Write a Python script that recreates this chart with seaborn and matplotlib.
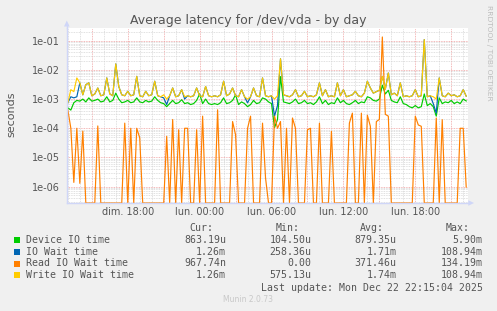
import numpy as np
import pandas as pd
import matplotlib
matplotlib.use("Agg")
import matplotlib.pyplot as plt
import seaborn as sns
from matplotlib.ticker import FixedLocator, FuncFormatter, LogLocator, MultipleLocator, NullFormatter
from matplotlib.patches import Rectangle, Polygon
from matplotlib.lines import Line2D

# ---------------- data ----------------
TITLE = "Average latency for /dev/vda - by day"
Y_LABEL = "seconds"
START_HOUR = 13.0          # hours since Sunday 00:00
STEP_HOURS = 0.25
X_GRID_MAJOR = [15, 18, 21, 24, 27, 30, 33, 36, 39, 42, 45]
X_TICK_HOURS = [18, 24, 30, 36, 42]
X_TICK_LABELS = ["dim. 18:00", "lun. 00:00", "lun. 06:00", "lun. 12:00", "lun. 18:00"]

device_io_ms = [
    0.5, 0.42, 0.75, 0.9, 0.85, 1.0, 0.8, 1.1, 0.85, 0.9,
    1.0, 0.8, 0.85, 1.2, 0.8, 0.9, 1.6, 1.0, 0.75, 0.8,
    0.9, 0.75, 0.8, 1.1, 0.8, 0.75, 0.9, 0.8, 0.85, 1.2,
    0.9, 0.75, 0.7, 0.55, 0.7, 0.9, 0.7, 0.75, 0.95, 0.7,
    0.75, 0.65, 0.7, 0.9, 1.5, 0.7, 1.0, 0.7, 0.65, 0.7,
    0.65, 0.75, 1.1, 0.7, 0.75, 0.9, 1.4, 0.65, 0.8, 0.7,
    0.55, 0.65, 0.9, 0.7, 0.75, 1.1, 1.0, 0.8, 0.7, 0.105,
    0.2, 5.9, 0.8, 0.75, 0.7, 0.8, 1.0, 0.7, 0.75, 0.9,
    0.7, 0.75, 0.65, 0.8, 1.2, 0.7, 0.9, 0.65, 0.75, 0.7,
    1.1, 0.75, 0.9, 0.7, 0.65, 0.75, 0.9, 0.7, 0.8, 0.75,
    1.2, 1.1, 0.9, 0.85, 1.0, 3.0, 1.5, 2.0, 0.9, 0.8,
    0.75, 1.2, 0.7, 0.65, 0.55, 0.5, 0.6, 0.5, 0.55, 1.5,
    0.6, 0.7, 0.55, 0.26, 1.1, 0.7, 0.8, 0.75, 0.9, 0.7,
    0.8, 0.7, 1.0, 0.86,
]

io_wait_ms = [
    0.75, 1.2, 1.1, 1.2, 3.6, 1.4, 3.1, 3.6, 1.3, 1.5,
    2.4, 1.3, 1.4, 5.3, 1.5, 1.3, 16.0, 2.7, 1.4, 1.3,
    1.85, 1.3, 1.4, 6.0, 1.3, 1.2, 1.85, 1.3, 1.4, 4.1,
    1.3, 1.2, 1.1, 0.65, 1.3, 2.4, 1.2, 1.3, 2.1, 1.0,
    1.3, 1.2, 1.3, 2.4, 1.3, 1.2, 2.7, 1.3, 1.2, 1.3,
    1.2, 1.4, 4.1, 1.3, 1.5, 2.4, 1.3, 1.2, 2.1, 1.2,
    0.74, 1.2, 2.4, 1.3, 1.2, 5.3, 1.3, 1.2, 1.3, 0.26,
    0.6, 24.0, 1.4, 1.3, 1.2, 1.4, 2.1, 1.2, 1.3, 1.85,
    1.2, 1.3, 1.2, 1.4, 3.6, 1.3, 2.1, 1.2, 1.3, 1.2,
    3.6, 1.3, 2.1, 1.2, 1.3, 1.4, 1.85, 1.3, 1.2, 1.6,
    4.1, 2.4, 1.6, 1.8, 2.0, 6.0, 2.2, 7.8, 1.4, 1.6,
    1.3, 3.6, 1.2, 1.3, 1.2, 1.3, 2.1, 1.2, 1.3, 108.94,
    1.2, 1.3, 0.7, 0.33, 5.3, 1.3, 1.2, 1.6, 1.3, 1.4,
    1.2, 1.3, 2.1, 1.26,
]

read_io_wait_ms = [
    0.43, 0.1, 0.0014, 0.1, 0.0013, 0.08, 0, 0, 0, 0,
    0.12, 0, 0, 0, 0, 0, 0, 0, 0, 0.15,
    0, 0.1, 0, 0.1, 0.047, 0, 0, 0, 0, 0,
    0, 0, 0, 0.053, 0, 0.2, 0, 0.089, 0, 0.1,
    0.1, 0, 0, 0.089, 0, 0.26, 0, 0, 0, 0,
    0.43, 0, 0, 0, 0, 0.17, 0.06, 0, 0, 0,
    0.1, 0.26, 0, 0, 0, 0.15, 0.002, 0, 0, 0.26,
    0.1, 0.17, 0, 0.1, 0, 0.225, 0.1, 0, 0, 0,
    0.089, 0.1, 0, 0, 0.15, 0, 0, 0, 0.079, 0,
    0, 0, 0, 0, 0.15, 0.33, 0, 0, 0.33, 0,
    0.28, 0.117, 0, 0.17, 0.2, 134.19, 0.3, 0.26, 0, 0,
    0, 0, 0, 0, 0, 0, 0.26, 0.13, 0.117, 0,
    0, 0, 0, 0.225, 0, 0.197, 0, 0, 0, 0,
    0, 0.1, 0.1, 0.00097,
]

write_io_wait_ms = [
    0.75, 2.1, 1.8, 5.3, 3.6, 1.4, 3.1, 3.6, 1.3, 1.5,
    2.4, 1.3, 1.4, 5.3, 1.5, 1.3, 16.0, 2.7, 1.4, 1.3,
    1.85, 1.3, 1.4, 6.0, 1.3, 1.2, 1.85, 1.3, 1.4, 4.1,
    1.3, 1.2, 1.4, 1.0, 1.3, 2.4, 1.2, 1.3, 2.1, 1.2,
    1.3, 1.2, 1.3, 2.4, 1.3, 1.2, 2.7, 1.3, 1.2, 1.3,
    1.2, 1.4, 4.1, 1.3, 1.5, 2.4, 1.3, 1.2, 2.1, 1.2,
    1.0, 1.2, 2.4, 1.3, 1.2, 5.3, 1.3, 1.2, 1.3, 1.0,
    1.3, 24.0, 1.4, 1.3, 1.2, 1.4, 2.1, 1.2, 1.3, 1.85,
    1.2, 1.3, 1.2, 1.4, 3.6, 1.3, 2.1, 1.2, 1.3, 1.2,
    3.6, 1.3, 2.1, 1.2, 1.3, 1.4, 1.85, 1.3, 1.2, 1.6,
    4.1, 2.4, 1.6, 1.8, 2.0, 6.0, 2.2, 7.8, 1.4, 1.6,
    1.3, 3.6, 1.2, 1.3, 1.2, 1.3, 2.1, 1.2, 1.3, 108.94,
    1.2, 1.3, 1.2, 1.0, 5.3, 1.3, 1.2, 1.6, 1.3, 1.4,
    1.2, 1.3, 2.1, 1.26,
]

SERIES_NAMES = ["Device IO time", "IO Wait time", "Read IO Wait time", "Write IO Wait time"]
SERIES_COLORS = ["#00CC00", "#0066B3", "#FF8000", "#FFCC00"]
CUR = ["863.19u", "1.26m", "967.74n", "1.26m"]
MIN = ["104.50u", "258.36u", "0.00", "575.13u"]
AVG = ["879.35u", "1.71m", "371.46u", "1.74m"]
MAX = ["5.90m", "108.94m", "134.19m", "108.94m"]
COL_HEADERS = ["Cur:", "Min:", "Avg:", "Max:"]
LAST_UPDATE = "Last update: Mon Dec 22 22:15:04 2025"
FOOTER = "Munin 2.0.73"
SIDE_TEXT = "RRDTOOL / TOBI OETIKER"

# ---------------- figure ----------------
W, H = 497, 311
FONT_COL = "#555555"
YMIN, YMAX = 10 ** -6.56, 10 ** -0.565

def fp(x, y):
    return (x / W, 1 - y / H)

fig = plt.figure(figsize=(W / 100, H / 100), dpi=100, facecolor="#F0F0F0")
ax = fig.add_axes([67 / W, (H - 203) / H, 401 / W, 175 / H])
ax.set_facecolor("white")

series_values = [device_io_ms, io_wait_ms, read_io_wait_ms, write_io_wait_ms]
frames = []
for name, vals in zip(SERIES_NAMES, series_values):
    v = np.asarray(vals, dtype=float) * 1e-3
    hours = START_HOUR + STEP_HOURS * np.arange(len(v))
    frames.append(pd.DataFrame({"hour": hours, "value": np.maximum(v, YMIN), "series": name}))
df = pd.concat(frames, ignore_index=True)

sns.lineplot(data=df, x="hour", y="value", hue="series", hue_order=SERIES_NAMES,
             palette=SERIES_COLORS, estimator=None, legend=False, linewidth=0.85,
             ax=ax)

ax.set_yscale("log")
ax.set_ylim(YMIN, YMAX)
ax.set_xlim(12.93, 46.40)
ax.set_xlabel("")
ax.set_ylabel("")

# grid / ticks
ax.yaxis.set_major_locator(LogLocator(base=10, numticks=20))
ax.yaxis.set_minor_locator(LogLocator(base=10, subs=np.arange(2, 10), numticks=20))
ax.yaxis.set_major_formatter(FuncFormatter(lambda v, p: f"{v:.0e}"))
ax.yaxis.set_minor_formatter(NullFormatter())
ax.xaxis.set_major_locator(FixedLocator(X_GRID_MAJOR))
lab = dict(zip(X_TICK_HOURS, X_TICK_LABELS))
ax.xaxis.set_major_formatter(FuncFormatter(lambda v, p: lab.get(int(round(v)), "")))
ax.xaxis.set_minor_locator(MultipleLocator(1))
ax.set_axisbelow(True)
ax.grid(True, which="minor", color="#D6D6D6", linestyle=(0, (1, 1)), linewidth=0.6)
ax.grid(True, which="major", color="#F0A0A0", linestyle=(0, (1, 1)), linewidth=0.6)
ax.tick_params(which="both", length=0, labelsize=7, labelcolor=FONT_COL)
ax.tick_params(axis="y", pad=5)
ax.tick_params(axis="x", pad=3)

for s in ["top", "right"]:
    ax.spines[s].set_visible(False)
for s in ["left", "bottom"]:
    ax.spines[s].set_color("#CFD6F8")
    ax.spines[s].set_linewidth(1.0)

# axis arrows
fig.add_artist(Line2D([67 / W, 67 / W], [1 - 28 / H, 1 - 24 / H], color="#CFD6F8", lw=1.0))
fig.add_artist(Polygon([fp(66.8, 20.5), fp(64, 26.5), fp(69.6, 26.5)], closed=True,
                       facecolor="#CFD6F8", edgecolor="none"))
fig.add_artist(Polygon([fp(474, 203), fp(468.3, 200.2), fp(468.3, 205.8)], closed=True,
                       facecolor="#CFD6F8", edgecolor="none"))

# texts
fig.text(248 / W, 1 - 24.3 / H, TITLE, ha="center", va="baseline", size=9, color=FONT_COL)
fig.text(*fp(11.2, 114.5), Y_LABEL, rotation=90, ha="center", va="center", size=8, color=FONT_COL)
fig.text(*fp(488.5, 53), SIDE_TEXT, rotation=270, ha="center", va="center", size=5.4, color="#BDBDBD")

mono = "DejaVu Sans Mono"
MS = 7.1
header_y = 227.7
row_ys = [239.7, 251.6, 263.5, 275.4]
head_right = [213.3, 299.3, 384.3, 470.0]
val_right = [226.0, 311.7, 396.7, 482.7]
for hx, h in zip(head_right, COL_HEADERS):
    fig.text(*fp(hx, header_y), h, ha="right", va="center", family=mono, size=MS, color=FONT_COL)
for ry, name, col, c, mn, av, mx in zip(row_ys, SERIES_NAMES, SERIES_COLORS, CUR, MIN, AVG, MAX):
    fig.add_artist(Rectangle(fp(13.5, ry + 3), 6 / W, 6 / H, facecolor=col, edgecolor="none"))
    fig.text(*fp(26, ry), name, ha="left", va="center", family=mono, size=MS, color=FONT_COL)
    for vx, txt in zip(val_right, [c, mn, av, mx]):
        fig.text(*fp(vx, ry), txt, ha="right", va="center", family=mono, size=MS, color=FONT_COL)
fig.text(*fp(482.7, 287.7), LAST_UPDATE, ha="right", va="center", family=mono, size=MS, color=FONT_COL)
fig.text(*fp(247.7, 299.5), FOOTER, ha="center", va="center", size=5.5, color="#C8C8C8")

fig.savefig("out.png", dpi=100, facecolor=fig.get_facecolor())
